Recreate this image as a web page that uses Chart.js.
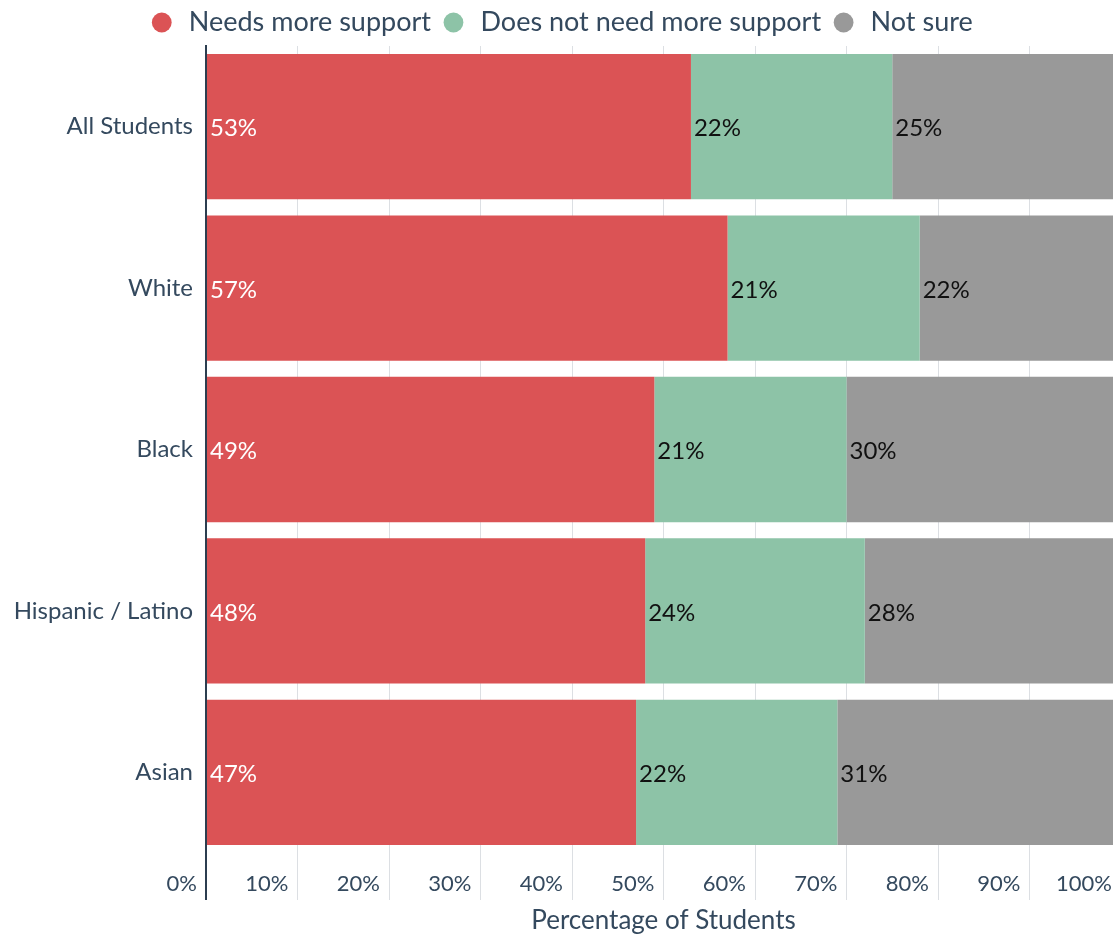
<!DOCTYPE html>
<html>
<head>
<meta charset="utf-8">
<script src="https://cdn.jsdelivr.net/npm/chart.js@4"></script>
<style>
  html, body { margin: 0; padding: 0; background: #fff; overflow: hidden; }
  #wrap { width: 1125px; height: 937px; position: relative; }
</style>
</head>
<body>
<div id="wrap"><canvas id="barChart"></canvas></div>
<script>
const groups = ["All Students", "White", "Black", "Hispanic / Latino", "Asian"];
const needsSupport = [53, 57, 49, 48, 47];
const noSupport = [22, 21, 21, 24, 22];
const notSure = [25, 22, 30, 28, 31];
const seriesNames = ["Needs more support", "Does not need more support", "Not sure"];
const tickLabels = ["0%", "10%", "20%", "30%", "40%", "50%", "60%", "70%", "80%", "90%", "100%"];

const seriesColors = ["#db5355", "#8dc3a7", "#999999"];
const valueColors = ["#ffffff", "#111111", "#111111"];
const textColor = "#34495e";
const axisColor = "#2c3e50";
const fontFamily = "Lato, 'Open Sans', sans-serif";

// percentage written at the left end of every segment
const segmentLabels = {
  id: "segmentLabels",
  afterDatasetsDraw(chart) {
    const ctx = chart.ctx;
    ctx.save();
    ctx.font = "24px " + fontFamily;
    ctx.textBaseline = "middle";
    ctx.textAlign = "left";
    chart.data.datasets.forEach((ds, i) => {
      chart.getDatasetMeta(i).data.forEach((bar, j) => {
        const p = bar.getProps(["x", "y", "base"], true);
        ctx.fillStyle = valueColors[i];
        ctx.fillText(ds.data[j] + "%", Math.min(p.x, p.base) + 3, p.y + 2);
      });
    });
    ctx.restore();
  }
};

const ctx = document.getElementById("barChart");

new Chart(ctx, {
  type: "bar",
  data: {
    labels: groups,
    datasets: [
      { label: seriesNames[0], data: needsSupport, backgroundColor: seriesColors[0] },
      { label: seriesNames[1], data: noSupport, backgroundColor: seriesColors[1] },
      { label: seriesNames[2], data: notSure, backgroundColor: seriesColors[2] },
    ],
  },
  options: {
    indexAxis: "y",
    responsive: true,
    maintainAspectRatio: false,
    animation: false,
    layout: { padding: { top: 0, right: 4, bottom: 0, left: 0 } },
    datasets: { bar: { barPercentage: 0.9, categoryPercentage: 1 } },
    plugins: {
      tooltip: { enabled: false },
      legend: {
        position: "top",
        labels: {
          usePointStyle: true,
          pointStyle: "circle",
          boxHeight: 14,
          color: textColor,
          font: { size: 27, family: fontFamily },
          padding: 9,
        },
      },
    },
    scales: {
      x: {
        stacked: true,
        min: 0,
        max: 100,
        border: { display: false },
        grid: {
          color: (c) => (c.tick && c.tick.value === 0 ? axisColor : "#dcdfe3"),
          lineWidth: (c) => (c.tick && c.tick.value === 0 ? 2 : 1),
          tickLength: 47,
        },
        ticks: {
          stepSize: 10,
          align: "end",
          labelOffset: -9,
          padding: -29,
          color: textColor,
          font: { size: 22, family: fontFamily },
          callback: (v, i) => tickLabels[i],
        },
        title: {
          display: true,
          text: "Percentage of Students",
          color: textColor,
          font: { size: 26, family: fontFamily },
          padding: { top: 0, bottom: 1 },
        },
        afterFit: (s) => { s.height = 84; },
      },
      y: {
        stacked: true,
        grid: { display: false, drawTicks: false },
        border: { color: axisColor, width: 2 },
        ticks: {
          color: textColor,
          font: { size: 24, family: fontFamily },
          padding: 13,
        },
        afterFit: (s) => { s.width = 206; },
      },
    },
  },
  plugins: [segmentLabels],
});
</script>
</body>
</html>
